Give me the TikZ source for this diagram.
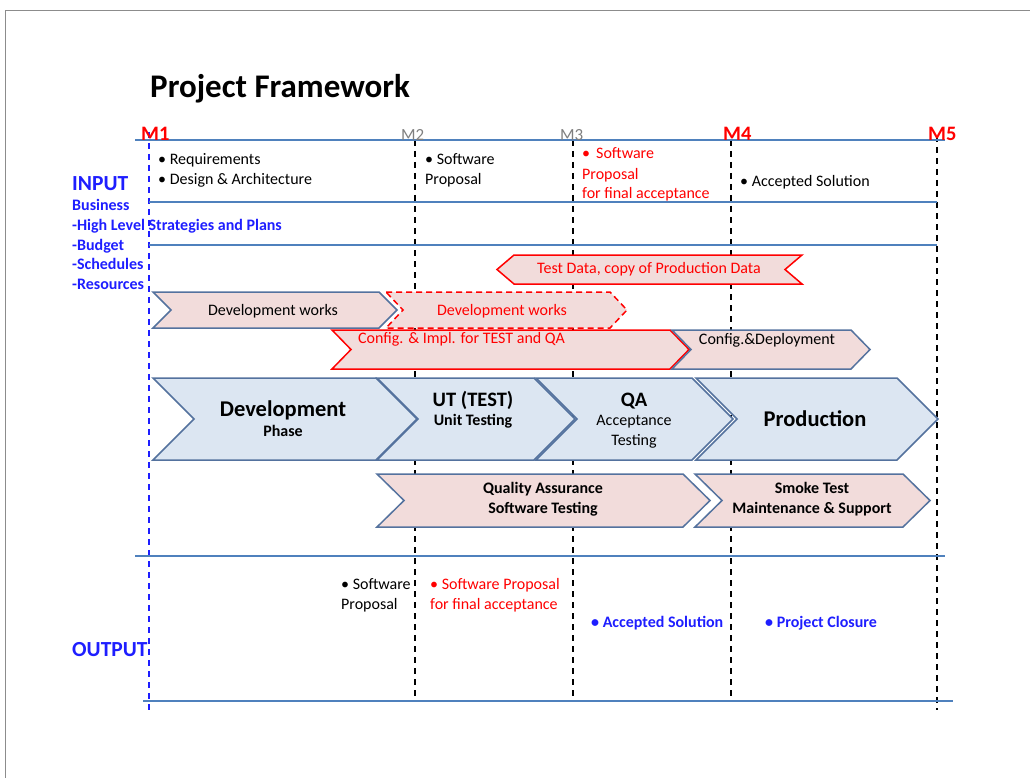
\documentclass[tikz,border=0pt]{standalone}
\usepackage{fontspec}
\setmainfont{Carlito}
\definecolor{lineblue}{RGB}{79,129,189}
\definecolor{chevblue}{RGB}{84,114,158}
\definecolor{fillblue}{RGB}{220,230,242}
\definecolor{fillpink}{RGB}{242,220,219}
\definecolor{myred}{RGB}{255,0,0}
\definecolor{txtblue}{RGB}{30,30,255}
\definecolor{mgray}{RGB}{127,127,127}
\definecolor{pageborder}{RGB}{140,140,140}
\newcommand{\chevr}[6]{\draw[#1] (#2,#4) -- ({#3-#6},#4) -- (#3,{(#4+#5)/2}) -- ({#3-#6},#5) -- (#2,#5) -- ({#2+#6},{(#4+#5)/2}) -- cycle;}
\newcommand{\chevl}[6]{\draw[#1] (#3,#4) -- ({#2+#6},#4) -- (#2,{(#4+#5)/2}) -- ({#2+#6},#5) -- (#3,#5) -- ({#3-#6},{(#4+#5)/2}) -- cycle;}
\tikzset{
  hline/.style={lineblue, line width=1.5pt},
  msline/.style={black, line width=1.4pt, dash pattern=on 6pt off 5pt},
  bigchev/.style={draw=chevblue, fill=fillblue, line width=1.5pt},
  pinkchev/.style={draw=chevblue, fill=fillpink, line width=1.5pt},
  redchev/.style={draw=myred, fill=fillpink, line width=1.5pt},
  reddash/.style={redchev, dash pattern=on 6pt off 4pt},
  t/.style={inner sep=0pt, anchor=base west, font=\fontsize{16}{19}\selectfont},
  tc/.style={t, anchor=base},
  tb/.style={t, font=\fontsize{16}{19}\selectfont\bfseries},
  tbc/.style={tb, anchor=base},
  big/.style={inner sep=0pt, anchor=base, font=\fontsize{22.5}{26}\selectfont\bfseries},
  mid/.style={inner sep=0pt, anchor=base, font=\fontsize{20.5}{24}\selectfont\bfseries},
  mred/.style={inner sep=0pt, anchor=base west, text=myred, font=\fontsize{20.5}{24}\selectfont\bfseries},
  mgr/.style={inner sep=0pt, anchor=base west, text=mgray, font=\fontsize{17}{20}\selectfont},
  side/.style={inner sep=0pt, anchor=base west, text=txtblue, font=\fontsize{16}{19}\selectfont\bfseries},
  head/.style={inner sep=0pt, anchor=base west, text=txtblue, font=\fontsize{21.5}{25}\selectfont\bfseries}
}
\begin{document}
\begin{tikzpicture}[x=1pt,y=-1pt]
\useasboundingbox (0,0) rectangle (1030,778);
\draw[pageborder, line width=1pt] (5,778) -- (5,11) -- (1030,11);

% milestone coordinates
\coordinate (m1t) at (149,132); \coordinate (m1b) at (149,710);
\coordinate (m2t) at (415,140); \coordinate (m2b) at (415,701);
\coordinate (m3t) at (573,140); \coordinate (m3b) at (573,701);
\coordinate (m4t) at (731,140); \coordinate (m4b) at (731,701);
\coordinate (m5t) at (937,136); \coordinate (m5b) at (937,710);
\draw[msline, txtblue] (m1t) -- (m1b);
\draw[msline] (m2t) -- (m2b);
\draw[msline] (m3t) -- (m3b);
\draw[msline] (m4t) -- (m4b);
\draw[msline] (m5t) -- (m5b);

% horizontal lines
\coordinate (h1a) at (135,140); \coordinate (h1b) at (945,140);
\coordinate (h2a) at (149,202); \coordinate (h2b) at (937,202);
\coordinate (h3a) at (149,245); \coordinate (h3b) at (937,245);
\coordinate (h4a) at (135,556); \coordinate (h4b) at (945,556);
\coordinate (h5a) at (143,701); \coordinate (h5b) at (953,701);
\draw[hline] (h1a) -- (h1b);
\draw[hline] (h2a) -- (h2b);
\draw[hline] (h3a) -- (h3b);
\draw[hline] (h4a) -- (h4b);
\draw[hline] (h5a) -- (h5b);

% title and milestone labels
\node[inner sep=0pt, anchor=base west, font=\fontsize{33}{38}\selectfont\bfseries] (title) at (150,98) {Project Framework};
\node[mred] (M1) at (141,141) {M1};
\node[mgr] (M2) at (401,141) {M2};
\node[mgr] (M3) at (560,141) {M3};
\node[mred] (M4) at (723,141) {M4};
\node[mred] (M5) at (928,141) {M5};

% input side
\node[head] (input) at (72,191) {INPUT};
\node[side] (s1) at (72,211) {Business};
\node[side] (s2) at (72,230.5) {-High Level Strategies and Plans};
\node[side] (s3) at (72,250) {-Budget};
\node[side] (s4) at (72,269.5) {-Schedules};
\node[side] (s5) at (72,289) {-Resources};

\node[t] (i1) at (158,165) {• Requirements};
\node[t] (i2) at (158,185) {• Design \& Architecture};
\node[t] (i3) at (425,165) {• Software};
\node[t] (i4) at (425,185) {Proposal};
\node[t, text=myred] (i5) at (582,159) {•\hspace{6pt}Software};
\node[t, text=myred] (i6) at (582,179) {Proposal};
\node[t, text=myred] (i7) at (582,199) {for final acceptance};
\node[t] (i8) at (740,187) {• Accepted Solution};

% small chevrons
\chevl{redchev}{497}{802}{255}{284}{17}
\node[tc, text=myred] (td) at (649,273) {Test Data, copy of Production Data};

\chevr{pinkchev}{153}{397}{292}{328}{18}
\node[tc] (dw1) at (273,315) {Development works};
\chevr{reddash}{386}{627}{292}{328}{17}
\node[tc, text=myred] (dw2) at (502,315) {Development works};

\chevr{redchev}{332}{689}{330}{369}{19}
\node[t, text=myred] (cfg) at (358,343) {Config. \& Impl. for TEST and QA};
\chevr{pinkchev}{672}{870}{330}{369}{19}
\node[tc] (dep) at (767,344) {Config.\&Deployment};

% big chevrons
\chevr{bigchev}{153}{417}{378}{460}{41}
\chevr{bigchev}{377}{575}{378}{460}{41}
\chevr{bigchev}{536}{733}{378}{460}{41}
\chevr{bigchev}{696}{938}{378}{460}{41}
\node[big] (dev) at (283,416) {Development};
\node[tbc] (phase) at (283,436) {Phase};
\node[mid] (ut) at (473,406) {UT (TEST)};
\node[tbc] (ut2) at (473,425) {Unit Testing};
\node[mid] (qa) at (634,406) {QA};
\node[tc] (qa2) at (634,425) {Acceptance};
\node[tc] (qa3) at (634,445) {Testing};
\node[big] (prod) at (815,426) {Production};

% bottom chevrons
\chevr{pinkchev}{377}{710}{474}{527}{27}
\chevr{pinkchev}{695}{930}{474}{527}{27}
\node[tbc] (qas1) at (543,493) {Quality Assurance};
\node[tbc] (qas2) at (543,513) {Software Testing};
\node[tbc] (sm1) at (812,493) {Smoke Test};
\node[tbc] (sm2) at (812,513) {Maintenance \& Support};

% output
\node[head] (output) at (72,656) {OUTPUT};
\node[t] (o1) at (341,589) {• Software};
\node[t] (o2) at (341,609) {Proposal};
\node[t, text=myred] (o3) at (430,589) {• Software Proposal};
\node[t, text=myred] (o4) at (430,609) {for final acceptance};
\node[side] (o5) at (591,627) {• Accepted Solution};
\node[side] (o6) at (765,627) {• Project Closure};
\end{tikzpicture}
\end{document}
